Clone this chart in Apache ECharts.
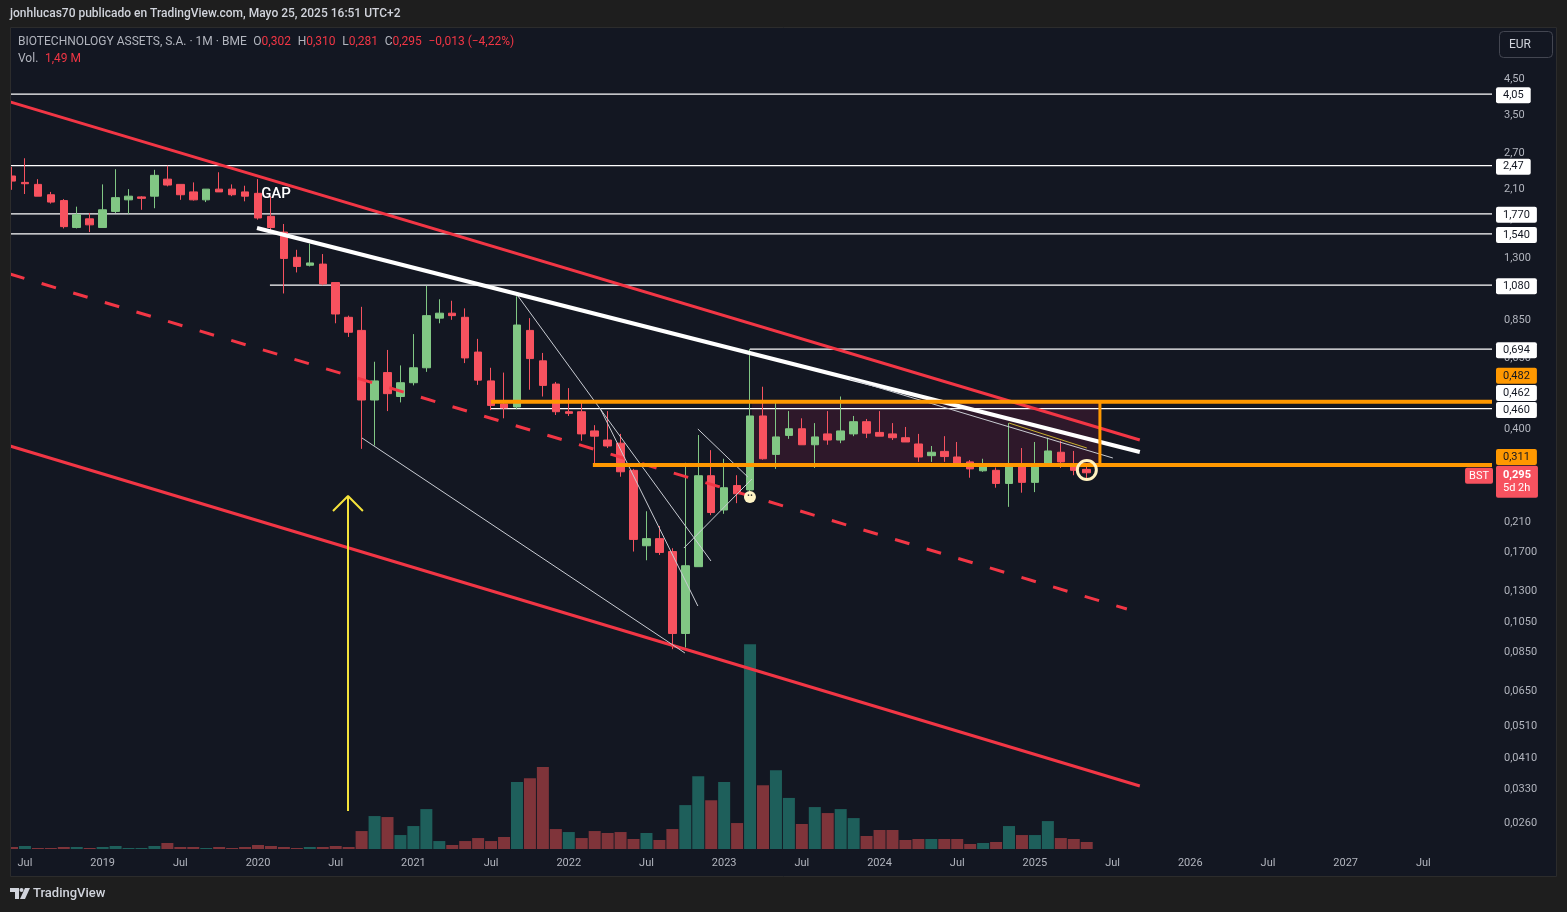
<!DOCTYPE html>
<html>
<head>
<meta charset="utf-8">
<script src="https://cdn.jsdelivr.net/npm/echarts@6/dist/echarts.min.js"></script>
<style>
html,body{margin:0;padding:0;background:#1e1e1e;}
#c{width:1567px;height:912px;}
</style>
</head>
<body>
<div id="c"></div>
<script>
// ================= DATA =================
// Monthly candles, index 0 = Jun 2018 ... index 83 = May 2025
const opens = [2.30,2.20,2.17,2.02,1.94,1.61,1.71,1.61,1.80,1.95,
  1.99,2.00,2.25,2.17,2.06,1.95,2.10,2.10,2.06,2.04,
  1.74,1.56,1.31,1.24,1.25,1.10,0.865,0.79,0.488,0.59,
  0.50,0.55,0.61,0.86,0.89,0.865,0.68,0.557,0.475,0.465,
  0.79,0.64,0.545,0.45,0.45,0.394,0.37,0.362,0.30,0.178,
  0.187,0.171,0.097,0.154,0.289,0.228,0.27,0.262,0.437,0.335,
  0.382,0.40,0.358,0.386,0.37,0.386,0.42,0.39,0.386,0.376,
  0.36,0.332,0.342,0.329,0.318,0.299,0.30,0.274,0.313,0.276,
  0.313,0.34,0.313,0.302];
const highs = [2.45,2.60,2.25,2.06,1.96,1.86,1.78,2.17,2.41,2.10,
  2.00,2.40,2.47,2.17,2.20,2.10,2.36,2.17,2.15,2.25,
  2.00,1.65,1.38,1.44,1.34,1.10,0.875,0.93,0.636,0.69,
  0.62,0.77,1.075,0.98,0.97,0.92,0.745,0.61,0.59,1.00,
  0.86,0.676,0.553,0.53,0.478,0.41,0.452,0.386,0.303,0.226,
  0.204,0.175,0.316,0.383,0.345,0.325,0.29,0.694,0.535,0.485,
  0.452,0.43,0.416,0.452,0.50,0.437,0.428,0.452,0.416,0.405,
  0.386,0.355,0.38,0.365,0.322,0.325,0.306,0.416,0.35,0.365,
  0.376,0.368,0.343,0.310];
const lows = [2.09,2.03,2.00,1.90,1.60,1.60,1.56,1.61,1.78,1.77,
  1.82,1.84,2.14,1.95,1.94,1.92,2.06,2.00,1.93,1.70,
  1.57,1.02,1.18,1.23,1.08,0.83,0.755,0.348,0.356,0.452,
  0.48,0.54,0.593,0.83,0.85,0.63,0.542,0.455,0.43,0.458,
  0.524,0.50,0.44,0.437,0.368,0.307,0.35,0.287,0.171,0.161,
  0.167,0.087,0.088,0.154,0.22,0.222,0.239,0.245,0.323,0.303,
  0.373,0.358,0.305,0.358,0.362,0.38,0.375,0.38,0.37,0.365,
  0.318,0.318,0.318,0.315,0.285,0.297,0.266,0.233,0.257,0.258,
  0.31,0.305,0.29,0.281];
const closes = [2.22,2.18,2.00,1.92,1.62,1.76,1.64,1.82,1.98,2.00,
  1.97,2.31,2.16,2.02,1.95,2.10,2.06,2.02,2.00,1.72,
  1.61,1.30,1.23,1.26,1.09,0.885,0.78,0.488,0.557,0.51,
  0.55,0.61,0.875,0.89,0.875,0.653,0.56,0.47,0.462,0.82,
  0.65,0.54,0.45,0.445,0.386,0.38,0.355,0.297,0.186,0.187,
  0.170,0.097,0.155,0.289,0.224,0.266,0.255,0.437,0.325,0.378,
  0.40,0.358,0.378,0.37,0.394,0.42,0.388,0.38,0.376,0.365,
  0.329,0.34,0.33,0.315,0.303,0.31,0.274,0.31,0.276,0.31,
  0.343,0.318,0.30,0.295];
// Volume in millions
const volumes = [0.43,0.64,0.21,0.21,0.43,0.43,0.21,0.43,0.64,0.21,
  0.21,0.64,1.28,0.43,0.43,0.21,0.43,0.21,0.43,0.85,
  0.64,0.43,0.21,0.43,0.43,0.64,0.43,3.83,7.03,6.82,
  2.98,4.90,8.52,1.70,0.85,1.70,2.34,1.70,2.56,14.3,
  15.1,17.5,4.26,3.62,2.34,3.83,3.41,3.62,2.13,3.41,
  1.92,4.26,9.37,15.5,10.4,14.3,5.54,43.7,13.6,16.8,
  10.9,5.33,8.95,7.67,8.52,6.60,2.77,4.05,4.05,1.92,
  2.13,2.13,2.13,2.13,1.07,1.28,1.49,4.90,2.98,2.98,
  5.96,2.34,2.13,1.49];
const volumeUp = [0,1,0,0,0,1,0,1,1,1,
  1,1,0,0,0,1,0,0,0,0,
  0,0,0,1,0,0,0,0,1,0,
  1,1,1,1,0,0,0,0,0,1,
  0,0,0,1,0,0,0,0,0,1,
  0,0,1,1,0,1,0,1,0,1,
  1,0,1,0,1,1,0,0,0,0,
  0,1,0,0,0,1,0,1,0,1,
  1,0,0,0];

// Axis tick labels
const priceTicks = [4.5,3.5,2.7,2.1,1.7,1.3,0.85,0.65,0.51,0.4,0.33,0.27,0.21,0.17,0.13,0.105,0.085,0.065,0.051,0.041,0.033,0.026];
const priceTickLabels = ['4,50','3,50','2,70','2,10','1,700','1,300','0,850','0,650','0,510','0,400','0,330','0,270','0,210','0,1700','0,1300','0,1050','0,0850','0,0650','0,0510','0,0410','0,0330','0,0260'];
const timeTicks = [1,7,13,19,25,31,37,43,49,55,61,67,73,79,85,91,97,103,109];
const timeTickLabels = ['Jul','2019','Jul','2020','Jul','2021','Jul','2022','Jul','2023','Jul','2024','Jul','2025','Jul','2026','Jul','2027','Jul'];

// Horizontal price levels (white) and where they start (month index)
const levelPrices = [4.05, 2.47, 1.770, 1.540, 1.080, 0.694, 0.460];
const levelFrom   = [-0.154, -0.154, -0.154, -0.154, 19.92, 56.99, 36.99];

// Orange range
const zoneTop = 0.482, zoneBottom = 0.311;
const zoneTopFrom = 36.99, zoneBottomFrom = 44.86, zoneEnd = 84.02, zoneFillFrom = 57.14;

// Trend lines (month index, price)
const redChannelTop    = [[-0.154, 3.84], [87.10, 0.370]];
const redChannelBottom = [[-0.154, 0.355], [87.10, 0.03376]];
const redChannelMid    = [[-0.154, 1.167], [86.10, 0.1149]];
const whiteTrend  = [[18.92, 1.605], [87.10, 0.3405]];
const thinTrend   = [[64.71, 0.5643], [85.02, 0.3267]];
const yellowTrend = [[76.99, 0.4163], [83.01, 0.3501]];
const thinLines = [
  [[27.03, 0.3752], [51.97, 0.08474]],
  [[39.07, 1.0027], [53.98, 0.1602]],
  [[45.41, 0.4617], [52.97, 0.1173]],
  [[52.97, 0.3993], [56.83, 0.2864]],
  [[51.89, 0.1752], [57.14, 0.2825]]
];
const arrowShaft = [[25.95, 0.0284], [25.95, 0.2512]];
const arrowHead  = [[24.79, 0.2264], [25.95, 0.2512], [27.10, 0.2264]];
const markerSmall = [56.99, 0.2495];
const markerRing  = [83.01, 0.3007];
const gapLabelAt  = [20.39, 2.03];

// Price tags on the right scale
const tagPrices = [4.05, 2.47, 1.770, 1.540, 1.080, 0.694, 0.482, 0.462, 0.460, 0.311];
const tagTexts  = ['4,05','2,47','1,770','1,540','1,080','0,694','0,482','0,462','0,460','0,311'];
const tagKinds  = ['w','w','w','w','w','w','o','w','w','o'];
const lastPrice = 0.295, lastPriceText = '0,295', countdownText = '5d 2h', symbolText = 'BST';

// ================= STYLE / LAYOUT =================
const C = {
  bg:'#131722', frame:'#1e1e1e', up:'#81c784', down:'#f7525f',
  volUp:'#1e5f5b', volDown:'#7f343a', text:'#b2b5be', red:'#f23645',
  orange:'#ff9800', white:'#ffffff', thin:'#c9ccd3', yellow:'#f5e33b'
};
const FONT = 'Roboto, "Noto Sans", sans-serif';
const X_MIN = -0.154, X_MAX = 114.3, Y_MIN = 0.02183, Y_MAX = 6.36;
const GRID = {left:10, top:29, width:1482, height:820};
// vertical pixel shifts of the price tags that are pushed apart
const tagShift = {4.05:1, 2.47:1, 1.77:1, 1.54:1, 1.08:1, 0.694:1, 0.482:-26, 0.462:-15, 0.46:1.5, 0.311:-8};

const chart = echarts.init(document.getElementById('c'), null, {renderer:'canvas'});

const candleData = opens.map((o,i)=>[i, o, closes[i], lows[i], highs[i]]);
const volData = volumes.map((v,i)=>({value:[i, v], itemStyle:{color: volumeUp[i] ? C.volUp : C.volDown}}));

function seg(points, style, z){
  return {type:'line', data:points, xAxisIndex:0, yAxisIndex:0, symbol:'none', showSymbol:false,
    silent:true, lineStyle:Object.assign({opacity:1}, style), z:z||4, animation:false};
}

const series = [];
series.push({type:'bar', xAxisIndex:1, yAxisIndex:1, data:volData, barWidth:12, z:1, silent:true, animation:false});
// levels
levelPrices.forEach((p,i)=>series.push(seg([[levelFrom[i],p],[X_MAX,p]], {color:C.white, width:1.2}, 3)));
// candles
series.push({type:'candlestick', xAxisIndex:0, yAxisIndex:0, data:candleData, encode:{x:0, y:[1,2,3,4]},
  barWidth:8, z:3, silent:true, animation:false,
  itemStyle:{color:C.up, color0:C.down, borderColor:C.up, borderColor0:C.down, borderColorDoji:C.down, borderWidth:1}});
// trend lines
series.push(seg(redChannelTop, {color:C.red, width:3}, 4));
series.push(seg(redChannelBottom, {color:C.red, width:3}, 4));
series.push(seg(redChannelMid, {color:C.red, width:3, type:[15,18]}, 4));
thinLines.forEach(l=>series.push(seg(l, {color:C.thin, width:1}, 4)));
series.push(seg(whiteTrend, {color:C.white, width:4}, 4));
series.push(seg(thinTrend, {color:C.thin, width:1}, 4));
series.push(seg(yellowTrend, {color:'#c9b12e', width:1}, 4));
// orange zone
series.push(seg([[zoneTopFrom,zoneTop],[X_MAX,zoneTop]], {color:C.orange, width:4}, 5));
series.push(seg([[zoneBottomFrom,zoneBottom],[X_MAX,zoneBottom]], {color:C.orange, width:4}, 5));
series.push(seg([[zoneEnd,zoneTop],[zoneEnd,zoneBottom]], {color:C.orange, width:3}, 5));
series.push({type:'line', data:[], xAxisIndex:0, yAxisIndex:0, z:5, silent:true, animation:false,
  markArea:{silent:true, itemStyle:{color:'rgba(233,30,99,0.13)'},
    data:[[{coord:[zoneFillFrom, zoneTop]},{coord:[zoneEnd, zoneBottom]}]]}});
// arrow
series.push(seg(arrowShaft, {color:C.yellow, width:2}, 5));
series.push(seg(arrowHead, {color:C.yellow, width:2}, 5));
// markers
series.push({type:'scatter', xAxisIndex:0, yAxisIndex:0, z:6, silent:true, animation:false,
  data:[{value:markerSmall, symbolSize:12, itemStyle:{color:'#fff4c6', opacity:1},
          label:{show:true, position:'inside', formatter:'··', color:'#3a3a3a', fontSize:10, fontWeight:'bold', fontFamily:FONT}},
        {value:markerRing, symbolSize:19, itemStyle:{color:'rgba(0,0,0,0)', borderColor:'#fff2c0', borderWidth:3, opacity:1}}]});
// GAP text
series.push({type:'scatter', xAxisIndex:0, yAxisIndex:0, z:6, silent:true, animation:false, symbolSize:0,
  itemStyle:{opacity:1}, data:[{value:gapLabelAt}],
  label:{show:true, position:'inside', formatter:'GAP', color:'#ffffff', fontSize:15, fontFamily:FONT, fontWeight:500}});
// price tags
const tagData = tagPrices.map((p,i)=>{
  const o = tagKinds[i]==='o';
  return {value:[X_MAX, p], label:{show:true, position:'right', distance:4, formatter:tagTexts[i],
    backgroundColor: o ? C.orange : '#ffffff', color:'#131722', fontSize:11, fontFamily:FONT,
    lineHeight:12, padding:[2,7,2,7], borderRadius:2, opacity:1, offset:[0, tagShift[p]||0]}};
});
tagData.push({value:[X_MAX, lastPrice], label:{show:true, position:'right', distance:4,
  formatter:'{a|'+lastPriceText+'}\n{b|'+countdownText+'}', backgroundColor:C.down, padding:[3,7,3,7],
  borderRadius:2, offset:[0,9], opacity:1,
  rich:{a:{color:'#ffffff', fontSize:11, fontWeight:'bold', fontFamily:FONT, lineHeight:13},
        b:{color:'#ffffff', fontSize:11, fontFamily:FONT, lineHeight:13}}}});
tagData.push({value:[X_MAX, lastPrice], label:{show:true, position:'left', distance:-1, formatter:symbolText,
  backgroundColor:C.down, color:'#ffffff', fontSize:11, fontFamily:FONT, lineHeight:12, padding:[2,4,2,4],
  borderRadius:2, offset:[0,3], opacity:1}});
series.push({type:'scatter', xAxisIndex:0, yAxisIndex:0, z:10, silent:true, animation:false, symbolSize:0,
  itemStyle:{opacity:1}, clip:false, data:tagData});

const option = {
  animation:false,
  backgroundColor:C.bg,
  grid:[Object.assign({}, GRID), Object.assign({}, GRID)],
  xAxis:[
    {type:'value', gridIndex:0, min:X_MIN, max:X_MAX, position:'bottom',
     axisLine:{show:false}, axisTick:{show:false}, splitLine:{show:false},
     axisLabel:{customValues:timeTicks, color:C.text, fontSize:11, fontFamily:FONT, margin:9,
       formatter:v=>{const i=timeTicks.indexOf(Math.round(v)); return i>=0?timeTickLabels[i]:'';}}},
    {type:'value', gridIndex:1, min:X_MIN, max:X_MAX, show:false}
  ],
  yAxis:[
    {type:'log', logBase:10, gridIndex:0, min:Y_MIN, max:Y_MAX, position:'right',
     axisLine:{show:false}, axisTick:{show:false}, splitLine:{show:false}, minorTick:{show:false},
     axisLabel:{customValues:priceTicks, color:C.text, fontSize:11, fontFamily:FONT, margin:12, align:'left',
       formatter:v=>{for(let i=0;i<priceTicks.length;i++){if(Math.abs(priceTicks[i]-v)/v<1e-4)return priceTickLabels[i];} return '';}}},
    {type:'value', gridIndex:1, min:0, max:175, show:false}
  ],
  series:series,
  graphic:[
    // frame around chart panel
    {type:'rect', shape:{x:0,y:0,width:1567,height:27}, style:{fill:C.frame}, z:100, silent:true},
    {type:'rect', shape:{x:0,y:877,width:1567,height:35}, style:{fill:C.frame}, z:100, silent:true},
    {type:'rect', shape:{x:0,y:0,width:10,height:912}, style:{fill:C.frame}, z:100, silent:true},
    {type:'rect', shape:{x:1557,y:0,width:10,height:912}, style:{fill:C.frame}, z:100, silent:true},
    {type:'rect', shape:{x:10.5,y:27.5,width:1546,height:849}, style:{fill:null, stroke:'#2c2c2c', lineWidth:1}, z:101, silent:true},
    {type:'text', x:10, y:14, z:102, silent:true, style:{text:'jonhlucas70 publicado en TradingView.com, Mayo 25, 2025 16:51 UTC+2',
      fill:'#d1d4dc', font:'500 12px '+FONT, verticalAlign:'middle'}},
    // legend
    {type:'text', x:18, y:42, z:102, silent:true, style:{
      text:'{g|BIOTECHNOLOGY ASSETS, S.A. · 1M · BME}  {g|O}{r|0,302}  {g|H}{r|0,310}  {g|L}{r|0,281}  {g|C}{r|0,295}  {r|−0,013 (−4,22%)}',
      verticalAlign:'middle',
      rich:{g:{fill:'#b2b5be', font:'12px '+FONT}, r:{fill:C.red, font:'12px '+FONT}}}},
    {type:'text', x:18, y:59, z:102, silent:true, style:{
      text:'{g|Vol.}  {r|1,49 M}', verticalAlign:'middle',
      rich:{g:{fill:'#b2b5be', font:'12px '+FONT}, r:{fill:C.red, font:'12px '+FONT}}}},
    // currency box
    {type:'rect', shape:{x:1499.5,y:31.5,width:53,height:26,r:4}, style:{fill:C.bg, stroke:'#434651', lineWidth:1}, z:102, silent:true},
    {type:'text', x:1509, y:45, z:103, silent:true, style:{text:'EUR', fill:'#d1d4dc', font:'12px '+FONT, verticalAlign:'middle'}},
    // TradingView logo
    {type:'polygon', shape:{points:[[10,888],[19,888],[19,899],[15,899],[15,892],[10,892]]}, style:{fill:'#d1d4dc'}, z:102, silent:true},
    {type:'circle', shape:{cx:21.5,cy:890,r:2}, style:{fill:'#d1d4dc'}, z:102, silent:true},
    {type:'polygon', shape:{points:[[25,888],[30,888],[25,899],[20,899]]}, style:{fill:'#d1d4dc'}, z:102, silent:true},
    {type:'text', x:33, y:894, z:102, silent:true, style:{text:'TradingView', fill:'#d1d4dc', font:'500 13px '+FONT, verticalAlign:'middle'}}
  ]
};
chart.setOption(option);
</script>
</body>
</html>
